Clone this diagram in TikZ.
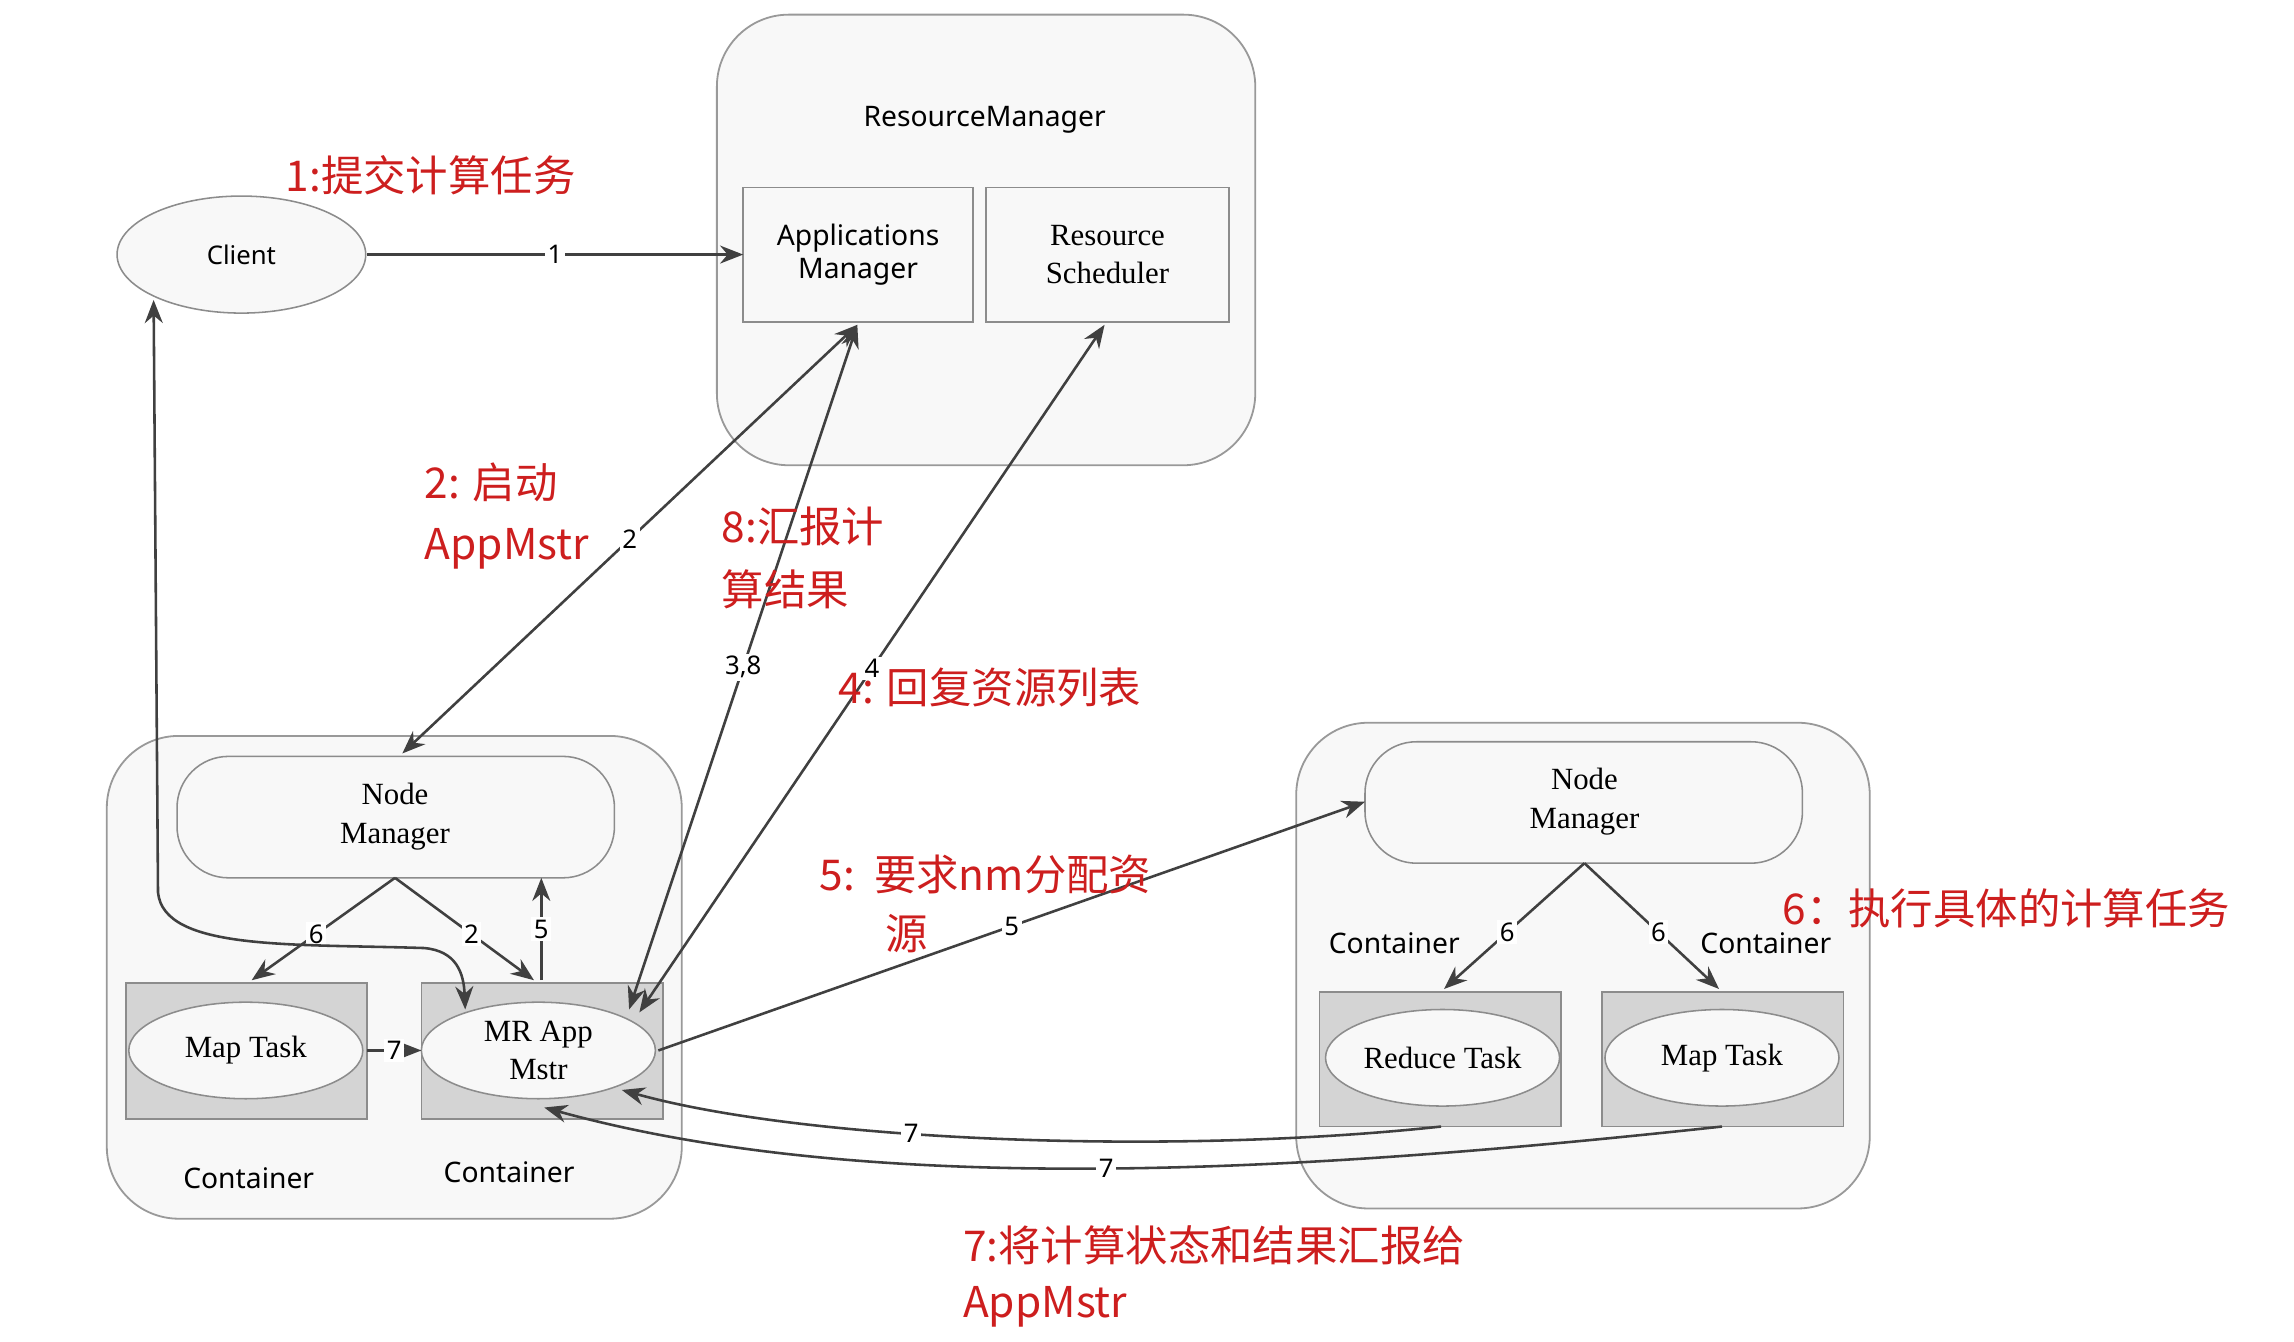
\documentclass[tikz,border=0pt]{standalone}
\usepackage{fontspec}
\setmainfont{Liberation Serif}
\newfontfamily\ssf{Noto Sans}
\newfontfamily\cjk{Noto Sans CJK SC}
\usetikzlibrary{shapes.geometric,arrows.meta}
\definecolor{rd}{RGB}{205,30,30}
\definecolor{bx}{RGB}{248,248,248}
\definecolor{gb}{RGB}{212,212,212}
\tikzset{
 big/.style={draw=gray!80,rounded corners=28pt,fill=bx,line width=0.7pt},
 inb/.style={draw=gray!90,fill=bx,line width=0.6pt},
 cont/.style={draw=gray!90,fill=gb,line width=0.6pt},
 ell/.style={ellipse,draw=gray!90,fill=bx,line width=0.6pt,inner sep=0pt},
 pill/.style={draw=gray!90,fill=bx,rounded corners=20pt,line width=0.6pt},
 ar/.style={-{Stealth[length=9pt,width=7pt]},line width=1pt,draw=black!75},
 dar/.style={{Stealth[length=9pt,width=7pt]}-{Stealth[length=9pt,width=7pt]},line width=1pt,draw=black!75},
 lb/.style={fill=white,inner sep=1pt,font=\ssf\fontsize{10}{10}\selectfont},
 red/.style={text=rd,font=\cjk\fontsize{16.5}{18}\selectfont,anchor=west,inner sep=0pt},
 st/.style={font=\ssf\fontsize{11}{13}\selectfont,align=center},
 sr/.style={font=\fontsize{12}{15}\selectfont,align=center}
}
\begin{document}
\begin{tikzpicture}[x=0.02cm,y=-0.02cm]
\useasboundingbox[fill=white] (0,0) rectangle (1568,917);
\draw[big] (490,10) rectangle (858,318);
\draw[big] (73,503) rectangle (466,833);
\draw[big] (886,494) rectangle (1278,826);
\node[st] (rmt) at (673,82) {ResourceManager};
\draw[inb] (508,128) rectangle (665,220);
\node[st] (am) at (586.5,174) {Applications\\Manager};
\coordinate (amb) at (586,222);
\draw[inb] (674,128) rectangle (840,220);
\node[sr] (rs) at (757,174) {Resource\\Scheduler};
\coordinate (rsb) at (755,222);
\node[ell,minimum width=3.4cm,minimum height=1.6cm] (cl) at (165,174) {\ssf Client};
\draw[pill] (121,517) rectangle (420,600);
\node[sr] (nm1) at (270,558) {Node\\Manager};
\draw[cont] (86,672) rectangle (251,765);
\node[ell,minimum width=3.2cm,minimum height=1.32cm] (mt1) at (168,718) {\fontsize{12}{14}\selectfont Map Task};
\draw[cont] (288,672) rectangle (453,765);
\node[ell,minimum width=3.2cm,minimum height=1.32cm,align=center,font=\fontsize{12}{15}\selectfont] (mr) at (368,718) {MR App\\Mstr};
\node[st] (c1) at (170,805) {Container};
\node[st] (c2) at (348,801) {Container};
\draw[pill] (933,507) rectangle (1232,590);
\node[sr] (nm2) at (1083,548) {Node\\Manager};
\draw[cont] (902,678) rectangle (1067,770);
\node[ell,minimum width=3.2cm,minimum height=1.32cm] (rt) at (986,723) {\fontsize{12}{14}\selectfont Reduce Task};
\draw[cont] (1095,678) rectangle (1260,770);
\node[ell,minimum width=3.2cm,minimum height=1.32cm] (mt2) at (1177,723) {\fontsize{12}{14}\selectfont Map Task};
\node[st] (c3) at (953,645) {Container};
\node[st] (c4) at (1207,645) {Container};
\coordinate (nm1b) at (270,600);
\coordinate (nm2b) at (1083,590);
\coordinate (mtt) at (172,670);
\coordinate (mrt) at (365,670);
\coordinate (nm2l) at (933,548);
\draw[ar] (cl.east) -- node[lb]{1} (508,174);
\draw[ar] (nm1b) -- node[lb,pos=0.55]{6} (mtt);
\draw[ar] (nm1b) -- node[lb,pos=0.55]{2} (mrt);
\draw[ar] (370,670) -- node[lb]{5} (370,600);
\draw[ar] (nm2b) -- node[lb,pos=0.55]{6} (987,676);
\draw[ar] (nm2b) -- node[lb,pos=0.55]{6} (1175,676);
\draw[dar] (105,205) -- (108,610) .. controls (112,650) and (200,645) .. (290,648) .. controls (312,650) and (317,665) .. (318,690);
\draw[dar] (amb) -- node[lb,pos=0.5]{2} (275,515);
\draw[dar] (430,690) -- node[lb,pos=0.5]{3,8} (amb);
\draw[dar] (437,692) -- node[lb,pos=0.5]{4} (rsb);
\draw[ar] (450,718) -- node[lb,pos=0.5]{5} (nm2l);
\draw[ar] (251,718) -- node[lb]{7} (288,718);
\draw[ar] (985,770) .. controls (800,790) and (550,780) .. node[lb,pos=0.6]{7} (425,745);
\draw[ar] (1177,770) .. controls (900,800) and (600,820) .. node[lb,pos=0.5]{7} (372,757);
\node[red] at (195,120) {1:提交计算任务};
\node[red] at (290,330) {2: 启动};
\node[red] at (290,375) {AppMstr};
\node[red] at (493,360) {8:汇报计};
\node[red] at (493,403) {算结果};
\node[red] at (573,470) {4: 回复资源列表};
\node[red] at (560,598) {5:\ \ 要求nm分配资};
\node[red] at (605,638) {源};
\node[red] at (1218,621) {6：执行具体的计算任务};
\node[red] at (658,851) {7:将计算状态和结果汇报给};
\node[red] at (658,893) {AppMstr};
\end{tikzpicture}
\end{document}
